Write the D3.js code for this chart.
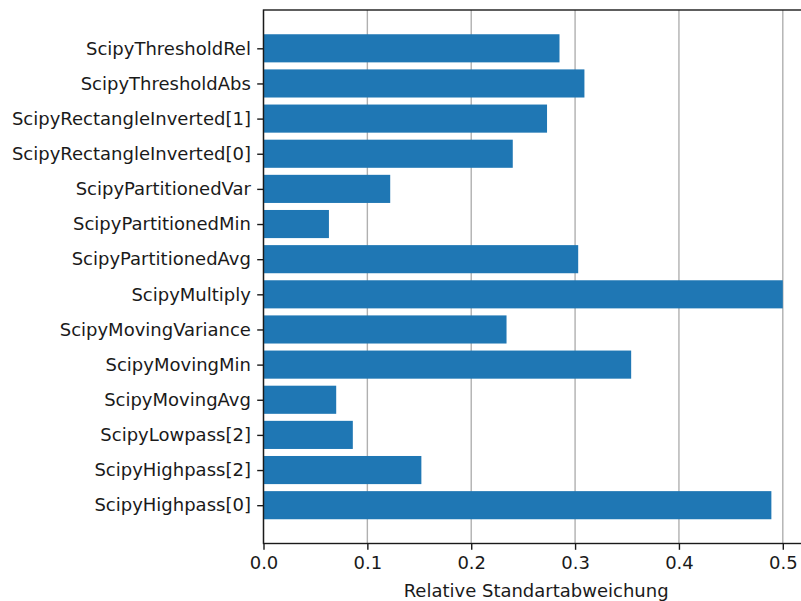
<!DOCTYPE html>
<html>
<head>
<meta charset="utf-8">
<script src="https://cdn.jsdelivr.net/npm/d3@7"></script>
<style>
  html, body { margin: 0; padding: 0; background: #fff; }
  svg { display: block; }
  text { font-family: "DejaVu Sans", sans-serif; }
</style>
</head>
<body>
<svg id="chart" width="801" height="601"></svg>
<script>
// Categories listed bottom to top (first entry sits at the bottom of the axis)
const categories = [
  "ScipyHighpass[0]",
  "ScipyHighpass[2]",
  "ScipyLowpass[2]",
  "ScipyMovingAvg",
  "ScipyMovingMin",
  "ScipyMovingVariance",
  "ScipyMultiply",
  "ScipyPartitionedAvg",
  "ScipyPartitionedMin",
  "ScipyPartitionedVar",
  "ScipyRectangleInverted[0]",
  "ScipyRectangleInverted[1]",
  "ScipyThresholdAbs",
  "ScipyThresholdRel"
];
const values = [
  0.489, 0.152, 0.086, 0.070, 0.354, 0.234, 0.500,
  0.303, 0.063, 0.122, 0.240, 0.273, 0.309, 0.285
];
const xTicks = [0.0, 0.1, 0.2, 0.3, 0.4, 0.5];
const xLabel = "Relative Standartabweichung";

const svg = d3.select("#chart");
const plotLeft = 263.5, plotTop = 10, plotBottom = 543.5;
const barHeight = 0.8;
const n = categories.length;
const fontSize = "18px";
const ink = "#1a1a1a";
const lineW = 1.4;
const tickLen = 6.3, tickPad = 6.3;

// Horizontal value scale, padded 5% beyond the largest bar
const xMax = d3.max(values) * 1.05;
const x = d3.scaleLinear().domain([0, xMax]).range([plotLeft, plotLeft + 1038.6 * xMax]);

// Vertical category scale in index units, padded like a bar plot
const yPad = (n - 1 + barHeight) * 0.05;
const yLo = -barHeight / 2 - yPad, yHi = n - 1 + barHeight / 2 + yPad;
const y = d3.scaleLinear().domain([yLo, yHi]).range([plotBottom, plotTop]);

// Vertical grid lines
svg.append("g")
  .selectAll("line")
  .data(xTicks)
  .join("line")
  .attr("x1", d => x(d)).attr("x2", d => x(d))
  .attr("y1", plotTop).attr("y2", plotBottom)
  .attr("stroke", "#b0b0b0")
  .attr("stroke-width", lineW);

// Bars
svg.append("g")
  .selectAll("rect")
  .data(values)
  .join("rect")
  .attr("x", x(0))
  .attr("y", (d, i) => y(i + barHeight / 2))
  .attr("width", d => x(d) - x(0))
  .attr("height", (d, i) => y(i - barHeight / 2) - y(i + barHeight / 2))
  .attr("fill", "#1f77b4");

// Bottom axis
const xAxis = d3.axisBottom(x)
  .tickValues(xTicks)
  .tickFormat(d3.format(".1f"))
  .tickSize(tickLen)
  .tickPadding(tickPad)
  .tickSizeOuter(0);
const gx = svg.append("g")
  .attr("transform", `translate(0,${plotBottom})`)
  .call(xAxis);
gx.select(".domain").remove();
gx.selectAll("line").attr("stroke", ink).attr("stroke-width", lineW);
gx.selectAll("text").style("font-size", fontSize).attr("fill", ink);

// Left axis with category names
const yAxis = d3.axisLeft(y)
  .tickValues(d3.range(n))
  .tickFormat(i => categories[i])
  .tickSize(tickLen)
  .tickPadding(tickPad)
  .tickSizeOuter(0);
const gy = svg.append("g")
  .attr("transform", `translate(${plotLeft},0)`)
  .call(yAxis);
gy.select(".domain").remove();
gy.selectAll("line").attr("stroke", ink).attr("stroke-width", lineW);
gy.selectAll("text").style("font-size", fontSize).attr("fill", ink);

// Frame (right side extends beyond the page width)
svg.append("rect")
  .attr("x", plotLeft).attr("y", plotTop)
  .attr("width", x(xMax) - plotLeft).attr("height", plotBottom - plotTop)
  .attr("fill", "none")
  .attr("stroke", ink)
  .attr("stroke-width", lineW);

// Axis title
svg.append("text")
  .attr("x", (plotLeft + x(xMax)) / 2)
  .attr("y", 596.5)
  .attr("text-anchor", "middle")
  .style("font-size", fontSize)
  .attr("fill", ink)
  .text(xLabel);
</script>
</body>
</html>
